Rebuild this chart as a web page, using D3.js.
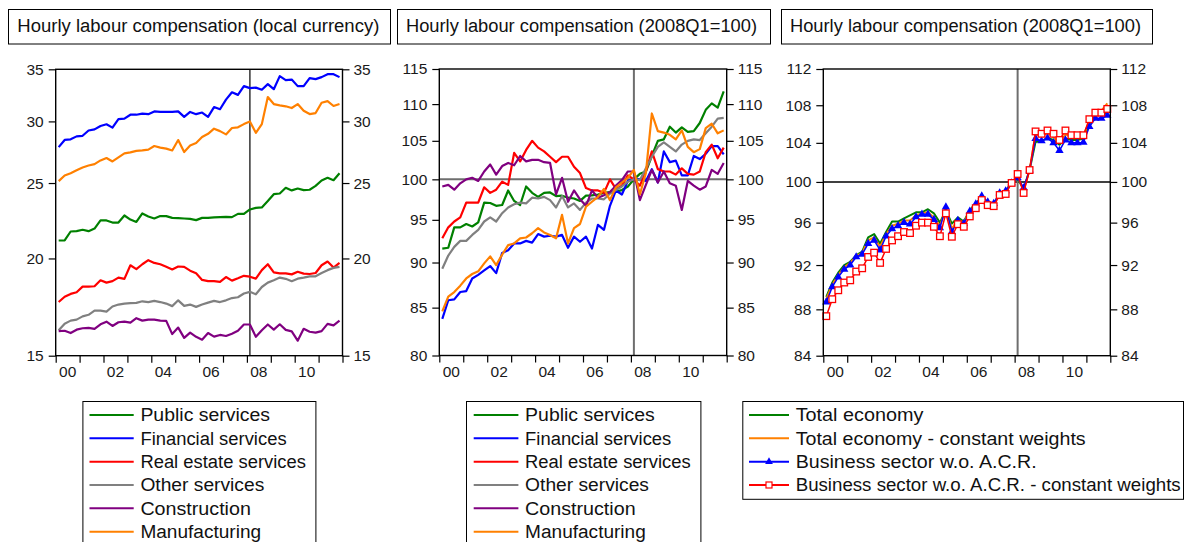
<!DOCTYPE html>
<html>
<head>
<meta charset="utf-8">
<script src="https://cdn.jsdelivr.net/npm/d3@7"></script>
<style>
  body { margin: 0; background: #fff; }
  svg { display: block; }
</style>
</head>
<body>
<svg id="chart" width="1187" height="542"></svg>
<script>
// ---------- data: quarterly observations 2000Q1 .. 2011Q4 ----------
const quarters = [];
for (let yr = 2000; yr <= 2011; yr++) for (let q = 1; q <= 4; q++) quarters.push(yr + "Q" + q);

const yearTicks = [2000, 2001, 2002, 2003, 2004, 2005, 2006, 2007, 2008, 2009, 2010, 2011, 2012];
const yearLabels = ["00", "02", "04", "06", "08", "10"];

// Panel 1: hourly labour compensation, local currency
const p1Ticks = [15, 20, 25, 30, 35];
const p1Public = [21.09,21.1,21.66,21.68,21.77,21.68,21.85,22.38,22.38,22.24,22.24,22.71,22.44,22.28,22.85,22.64,22.51,22.67,22.67,22.55,22.53,22.51,22.48,22.4,22.55,22.55,22.58,22.6,22.62,22.6,22.82,22.82,23.12,23.23,23.26,23.7,24.19,24.24,24.65,24.46,24.6,24.48,24.51,24.79,25.19,25.39,25.21,25.74];
const p1Financial = [27.8,28.4,28.45,28.7,28.75,29.2,29.3,29.6,29.75,29.45,30.2,30.25,30.6,30.6,30.7,30.65,30.9,30.85,30.85,30.85,30.9,30.4,30.85,30.65,30.8,30.4,31.3,31.1,32.0,32.7,32.45,33.3,33.1,33.15,32.95,33.5,33.0,34.3,33.9,33.95,33.3,33.3,34.1,34.0,34.2,34.5,34.5,34.2];
const p1RealEstate = [17.58,17.86,18.01,18.1,18.4,18.4,18.42,18.75,18.62,18.7,18.9,18.83,19.6,19.38,19.66,19.9,19.74,19.66,19.51,19.36,19.53,19.51,19.29,19.14,18.77,18.7,18.7,18.66,18.93,18.73,18.86,19.0,18.95,18.84,19.32,19.66,19.19,19.14,19.14,19.08,19.23,19.12,19.1,19.16,19.6,19.82,19.47,19.74];
const p1Other = [16.17,16.49,16.64,16.69,16.85,16.93,17.14,17.14,17.09,17.35,17.45,17.5,17.52,17.54,17.62,17.58,17.64,17.58,17.5,17.37,17.67,17.38,17.45,17.33,17.45,17.55,17.64,17.58,17.67,17.79,17.83,18.03,18.12,17.99,18.38,18.62,18.75,18.9,18.83,18.7,18.84,18.9,18.97,18.97,19.16,19.32,19.45,19.51];
const p1Construction = [16.13,16.15,16.04,16.2,16.27,16.29,16.24,16.46,16.59,16.38,16.56,16.59,16.54,16.76,16.64,16.69,16.69,16.64,16.63,15.99,16.3,15.81,16.06,15.86,15.73,16.04,15.87,15.95,15.9,16.01,16.15,16.45,16.45,15.86,16.17,16.45,16.2,16.46,16.19,16.12,15.68,16.24,16.1,16.06,16.13,16.48,16.41,16.64];
const p1Manufacturing = [25.14,25.56,25.74,25.97,26.18,26.33,26.44,26.73,26.92,26.65,26.97,27.29,27.37,27.5,27.53,27.6,27.89,27.76,27.68,27.53,28.39,27.4,27.94,28.14,28.64,28.92,29.36,29.15,28.87,29.42,29.48,29.76,30.0,29.0,29.76,32.24,31.58,31.46,31.37,31.21,31.58,30.96,30.66,30.75,31.7,31.85,31.4,31.58];

// Panel 2: hourly labour compensation, index 2008Q1 = 100
const p2Ticks = [80, 85, 90, 95, 100, 105, 110, 115];
const p2Public = [91.6,91.7,94.1,94.1,94.5,94.2,94.7,97.1,97.05,96.7,96.8,98.6,97.3,96.8,99.1,98.3,97.8,98.3,98.35,97.9,97.95,97.7,97.6,97.3,97.95,98.0,98.1,98.3,98.4,98.45,98.65,99.1,100.0,100.7,101.0,103.0,105.0,105.2,106.9,106.1,106.8,106.2,106.3,107.4,109.2,110.1,109.5,111.8];
const p2Financial = [83.8,85.8,85.9,86.7,86.8,88.2,88.6,89.1,89.6,88.8,91.1,91.4,92.2,92.2,92.5,92.3,93.3,93.0,93.1,93.0,93.2,91.7,93.0,92.4,93.0,91.6,94.4,93.8,96.7,98.6,98.1,99.8,100.0,100.0,99.8,101.3,99.6,103.6,102.2,102.4,100.5,100.5,103.0,102.6,103.3,104.3,104.3,103.2];
const p2RealEstate = [92.8,94.1,94.8,95.3,97.1,97.1,97.1,99.0,98.3,98.7,99.7,99.3,103.4,102.3,103.8,105.0,104.1,103.6,102.9,102.2,102.9,102.9,101.6,100.8,98.9,98.6,98.6,98.3,100.0,98.8,99.2,100.5,100.0,99.2,101.0,103.6,101.3,101.0,101.0,100.6,101.4,100.7,100.6,101.0,103.5,104.5,102.7,104.1];
const p2Other = [89.3,90.8,91.8,92.5,92.5,93.2,93.8,94.8,95.3,94.8,95.8,96.5,96.9,97.1,97.0,97.7,97.6,97.8,97.4,96.5,97.9,96.5,97.0,96.2,97.1,97.6,97.6,97.5,98.2,98.65,99.1,99.7,100.0,99.9,101.4,102.9,104.2,104.8,104.2,103.6,104.5,105.0,105.2,105.1,106.0,106.9,108.0,108.1];
const p2Construction = [99.1,99.3,98.7,99.5,100.0,100.2,99.8,101.0,101.9,100.6,101.7,102.1,101.8,103.0,102.3,102.5,102.5,102.2,102.1,98.1,100.2,97.2,98.6,97.5,96.7,98.6,97.7,98.0,98.4,99.2,99.9,101.0,101.0,97.4,99.3,101.2,99.6,101.0,99.5,99.2,96.2,99.8,99.2,98.7,99.1,101.2,100.7,102.1];
const p2Manufacturing = [84.6,86.2,86.7,87.4,88.2,88.7,89.0,89.9,90.7,89.7,90.9,92.0,92.2,92.8,92.9,93.4,94.0,93.5,93.2,92.8,95.6,92.2,94.0,94.5,96.6,97.2,97.8,98.8,97.4,99.0,99.6,100.2,101.2,98.1,100.8,108.7,106.3,106.1,105.8,105.2,106.4,104.2,103.5,103.9,106.7,107.3,106.0,106.4];

// Panel 3: aggregates, index 2008Q1 = 100
const p3Ticks = [84, 88, 92, 96, 100, 104, 108, 112];
const p3Total = [89.1,90.4,91.3,92.0,92.3,92.9,93.25,94.6,94.9,94.0,95.1,96.1,96.1,96.4,96.7,97.0,97.0,97.3,96.9,96.0,97.2,95.9,96.5,96.1,97.2,97.9,98.5,98.0,97.85,98.8,99.1,100.0,100.3,99.3,101.2,104.1,104.2,104.5,104.3,103.8,104.45,104.3,104.3,104.45,106.0,106.9,107.0,107.2];
const p3TotalCW = [88.9,90.2,91.1,91.8,92.2,92.85,93.1,94.3,94.6,93.7,94.9,95.7,95.9,96.2,96.2,96.7,96.9,97.0,96.5,95.7,97.3,95.4,96.3,96.0,97.1,97.8,98.5,98.0,97.8,98.8,99.0,99.9,100.5,99.2,101.2,104.9,104.7,105.0,104.6,104.0,104.9,104.6,104.6,104.7,106.4,107.3,107.4,108.2];
const p3Business = [88.65,90.0,90.9,91.6,92.0,92.75,93.0,94.0,94.3,93.4,94.7,95.4,95.7,96.0,95.85,96.55,96.8,96.8,96.3,95.5,97.5,95.1,96.2,95.9,97.1,97.8,98.6,98.0,97.85,98.9,99.1,99.9,100.4,99.4,101.2,104.45,104.2,104.5,104.0,103.2,104.3,104.0,104.0,104.05,105.7,106.6,106.6,106.9];
const p3BusinessCW = [87.4,88.9,89.7,90.4,90.6,91.4,91.7,92.75,93.15,92.2,93.5,94.3,94.7,95.1,95.0,95.7,96.0,96.0,95.6,94.7,96.9,94.65,95.85,95.6,96.6,97.4,98.2,97.7,97.6,98.7,98.8,99.9,100.8,98.9,101.2,105.2,104.95,105.3,104.95,104.3,105.3,104.8,104.8,104.8,106.5,107.2,107.2,107.6];

// ---------- styling ----------
const FONT = '"Liberation Sans", Arial, Helvetica, sans-serif';
const C = { green: "#008000", blue: "#0000ff", red: "#ff0000", gray: "#808080", purple: "#800080", orange: "#ff8000" };

const sectorNames = ["Public services", "Financial services", "Real estate services", "Other services", "Construction", "Manufacturing"];
const sectorColors = [C.green, C.blue, C.red, C.gray, C.purple, C.orange];
const sectorLabelWidths = [129.7, 146.2, 165.5, 123.9, 110.5, 120.7];

const svg = d3.select("#chart").style("font-family", FONT);

// quarter i sits in the middle of its quarter slot
const qPos = i => 2000 + (i + 0.5) / 4;
const refQuarter = quarters.indexOf("2008Q1");

function titleBox(x0, x1, textX, label, width) {
  svg.append("rect").attr("x", x0 + 0.5).attr("y", 9.5).attr("width", x1 - x0).attr("height", 34.5)
    .attr("fill", "#fff").attr("stroke", "#000").attr("stroke-width", 1);
  svg.append("text").attr("x", textX).attr("y", 32.3).attr("font-size", 18).attr("fill", "#111")
    .attr("textLength", width).attr("lengthAdjust", "spacingAndGlyphs").text(label);
}

function panel(cfg) {
  const g = svg.append("g");
  const x = d3.scaleLinear().domain([2000, 2012]).range([cfg.left, cfg.right]);
  const y = d3.scaleLog().domain(cfg.domain).range([cfg.bottom, cfg.top]);

  const styleAxis = sel => {
    sel.select(".domain").remove();
    sel.selectAll(".tick line").attr("stroke", "#000").attr("stroke-width", 1.2);
    sel.selectAll(".tick text").attr("font-family", FONT).attr("font-size", 15.5).attr("fill", "#1a1a1a");
  };

  g.append("g").attr("transform", `translate(${cfg.left},0)`)
    .call(d3.axisLeft(y).tickValues(cfg.ticks).tickSize(7).tickSizeOuter(0).tickPadding(5).tickFormat(d3.format("d")))
    .call(styleAxis);
  g.append("g").attr("transform", `translate(${cfg.right},0)`)
    .call(d3.axisRight(y).tickValues(cfg.ticks).tickSize(7).tickSizeOuter(0).tickPadding(4).tickFormat(d3.format("d")))
    .call(styleAxis);
  g.append("g").attr("transform", `translate(0,${cfg.bottom})`)
    .call(d3.axisBottom(x).tickValues(yearTicks).tickSize(7).tickSizeOuter(0).tickFormat(""))
    .call(styleAxis);

  // two-digit year labels centred in their year
  g.selectAll("text.yr").data(yearLabels).join("text").attr("class", "yr")
    .attr("x", d => x(2000 + +d + 0.5)).attr("y", cfg.bottom + 21.5)
    .attr("text-anchor", "middle").attr("font-size", 15.5).attr("fill", "#1a1a1a").text(d => d);

  // reference lines
  if (cfg.hLine != null) {
    g.append("line").attr("x1", cfg.left).attr("x2", cfg.right)
      .attr("y1", y(cfg.hLine)).attr("y2", y(cfg.hLine))
      .attr("stroke", cfg.hColor).attr("stroke-width", cfg.hWidth);
  }
  g.append("line").attr("x1", x(qPos(refQuarter))).attr("x2", x(qPos(refQuarter)))
    .attr("y1", cfg.top).attr("y2", cfg.bottom)
    .attr("stroke", cfg.vColor).attr("stroke-width", cfg.vWidth);

  const line = d3.line().x((d, i) => x(qPos(i))).y(d => y(d));
  cfg.series.forEach(s => {
    g.append("path").datum(s.values).attr("d", line).attr("fill", "none")
      .attr("stroke", s.color).attr("stroke-width", s.width).attr("stroke-linejoin", "round");
    if (s.marker === "triangle") {
      g.selectAll(null).data(s.values).join("path")
        .attr("transform", (d, i) => `translate(${x(qPos(i))},${y(d)})`)
        .attr("d", d3.symbol(d3.symbolTriangle, 30)).attr("fill", s.color);
    } else if (s.marker === "square") {
      g.selectAll(null).data(s.values).join("rect")
        .attr("x", (d, i) => x(qPos(i)) - 3.3).attr("y", d => y(d) - 3.3)
        .attr("width", 6.6).attr("height", 6.6)
        .attr("fill", "#fff").attr("stroke", s.color).attr("stroke-width", 1.3);
    }
  });

  g.append("rect").attr("x", cfg.left).attr("y", cfg.top)
    .attr("width", cfg.right - cfg.left).attr("height", cfg.bottom - cfg.top)
    .attr("fill", "none").attr("stroke", "#000").attr("stroke-width", 1.4);
}

function legend(cfg) {
  const g = svg.append("g");
  g.append("rect").attr("x", cfg.x0 + 0.5).attr("y", 401.5).attr("width", cfg.x1 - cfg.x0).attr("height", cfg.h)
    .attr("fill", "#fff").attr("stroke", "#000").attr("stroke-width", 1);
  cfg.items.forEach((it, k) => {
    const ly = 415 + k * 23.33;
    g.append("line").attr("x1", cfg.lx0).attr("x2", cfg.lx1).attr("y1", ly).attr("y2", ly)
      .attr("stroke", it.color).attr("stroke-width", 2);
    const mx = (cfg.lx0 + cfg.lx1) / 2;
    if (it.marker === "triangle") {
      g.append("path").attr("transform", `translate(${mx},${ly})`)
        .attr("d", d3.symbol(d3.symbolTriangle, 26)).attr("fill", it.color);
    } else if (it.marker === "square") {
      g.append("rect").attr("x", mx - 3).attr("y", ly - 3).attr("width", 6).attr("height", 6)
        .attr("fill", "#fff").attr("stroke", it.color).attr("stroke-width", 1.2);
    }
    g.append("text").attr("x", cfg.tx).attr("y", ly + 6.3).attr("font-size", cfg.fs).attr("fill", "#111")
      .attr("textLength", it.w).attr("lengthAdjust", "spacingAndGlyphs").text(it.name);
  });
}

// ---------- titles ----------
titleBox(8, 390, 17.3, "Hourly labour compensation (local currency)", 362);
titleBox(397, 770, 406, "Hourly labour compensation (2008Q1=100)", 351);
titleBox(781, 1152, 790, "Hourly labour compensation (2008Q1=100)", 351);

// ---------- panels ----------
panel({
  left: 55.7, right: 342.5, top: 69.3, bottom: 355.7, domain: [15, 35], ticks: p1Ticks,
  vColor: "#333", vWidth: 1.5, hLine: null,
  series: [
    { values: p1Public, color: C.green, width: 2.2 },
    { values: p1Financial, color: C.blue, width: 2.2 },
    { values: p1RealEstate, color: C.red, width: 2.2 },
    { values: p1Other, color: C.gray, width: 2.2 },
    { values: p1Construction, color: C.purple, width: 2.2 },
    { values: p1Manufacturing, color: C.orange, width: 2.2 }
  ]
});

panel({
  left: 439.3, right: 726.7, top: 69, bottom: 355.5, domain: [80, 115], ticks: p2Ticks,
  vColor: "#6e6e6e", vWidth: 2, hLine: 100, hColor: "#6e6e6e", hWidth: 2,
  series: [
    { values: p2Public, color: C.green, width: 2.2 },
    { values: p2Financial, color: C.blue, width: 2.2 },
    { values: p2RealEstate, color: C.red, width: 2.2 },
    { values: p2Other, color: C.gray, width: 2.2 },
    { values: p2Construction, color: C.purple, width: 2.2 },
    { values: p2Manufacturing, color: C.orange, width: 2.2 }
  ]
});

panel({
  left: 823.3, right: 1110.3, top: 69, bottom: 355.7, domain: [84, 112], ticks: p3Ticks,
  vColor: "#6e6e6e", vWidth: 2, hLine: 100, hColor: "#000", hWidth: 1.4,
  series: [
    { values: p3Total, color: C.green, width: 2 },
    { values: p3TotalCW, color: C.orange, width: 2 },
    { values: p3Business, color: C.blue, width: 1.5, marker: "triangle" },
    { values: p3BusinessCW, color: C.red, width: 1.5, marker: "square" }
  ]
});

// ---------- legends ----------
const sectorItems = sectorNames.map((n, k) => ({ name: n, color: sectorColors[k], w: sectorLabelWidths[k] }));
legend({ x0: 82.4, x1: 315.4, h: 160, lx0: 89.5, lx1: 133.7, tx: 140.4, fs: 18, items: sectorItems });
legend({ x0: 466, x1: 700.4, h: 160, lx0: 473.7, lx1: 518.4, tx: 525.1, fs: 18, items: sectorItems });
legend({
  x0: 742.3, x1: 1183, h: 97.8, lx0: 749, lx1: 789, tx: 795.7, fs: 17.5,
  items: [
    { name: "Total economy", color: C.green, w: 127.7 },
    { name: "Total economy - constant weights", color: C.orange, w: 290 },
    { name: "Business sector w.o. A.C.R.", color: C.blue, marker: "triangle", w: 241 },
    { name: "Business sector w.o. A.C.R. - constant weights", color: C.red, marker: "square", w: 385 }
  ]
});
</script>
</body>
</html>
